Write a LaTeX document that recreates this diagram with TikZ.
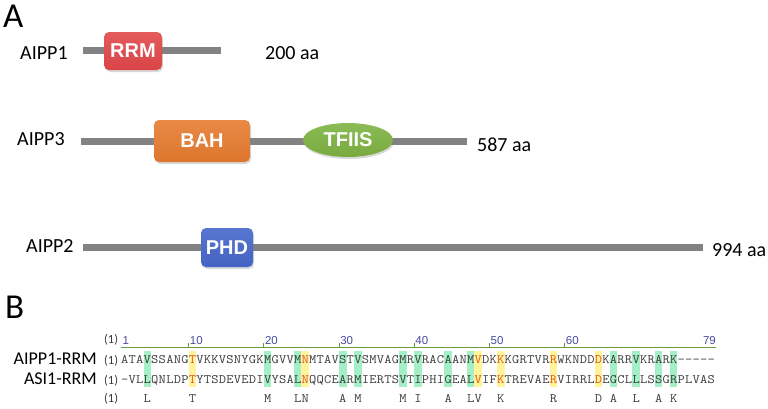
\documentclass[tikz,border=0pt]{standalone}
\usepackage{fontspec}
\setmainfont{Carlito}
\newfontfamily\seqfont[FakeStretch=1.1]{Latin Modern Mono}
\newfontfamily\rulerfont{Liberation Sans}
\newfontfamily\domfont{Liberation Sans}
\usetikzlibrary{shapes.geometric,shadows}
\definecolor{barGray}{HTML}{828282}
\definecolor{rrmRed}{HTML}{D94447}
\definecolor{rrmRedTop}{HTML}{E45B5C}
\definecolor{bahOrange}{HTML}{DD752E}
\definecolor{bahOrangeTop}{HTML}{E88A45}
\definecolor{tfGreen}{HTML}{78AA40}
\definecolor{tfGreenTop}{HTML}{8BBB55}
\definecolor{phdBlue}{HTML}{4463C2}
\definecolor{phdBlueTop}{HTML}{5676D0}
\definecolor{hlGreen}{HTML}{A4EFC6}
\definecolor{hlYellow}{HTML}{FFF39C}
\definecolor{hlText}{HTML}{E2561C}
\definecolor{seqGray}{HTML}{3A3A3A}
\definecolor{rulerBlue}{HTML}{4B4BA3}
\definecolor{rulerGreen}{HTML}{6A9A3A}
% place a sequence one residue per column; lower-case = highlighted (orange) residue
\newcount\seqcol
\def\placeseq#1#2#3{\def\seqy{#1}\def\seqpre{#2}\global\seqcol=0 \seqloop#3\relax}
\def\seqloop#1{\ifx\relax#1\else\seqone{#1}\expandafter\seqloop\fi}
\def\seqone#1{\global\advance\seqcol by 1
  \ifnum`#1>`Z \def\seqclr{hlText}\else\def\seqclr{seqGray}\fi
  \node[seqtext, anchor=base, text=\seqclr] (\seqpre\the\seqcol) at ({121+(\the\seqcol-0.5)*7.52},\seqy) {\uppercase{#1}};}
\begin{document}
\begin{tikzpicture}[x=1pt,y=-1pt,
  protbar/.style={line width=7pt, draw=barGray},
  domainbox/.style={rounded corners=5pt, text=white, inner sep=0pt,
    font=\domfont\fontsize{20}{20}\selectfont\bfseries,
    drop shadow={opacity=0.3, shadow xshift=1pt, shadow yshift=-2pt}},
  protlabel/.style={anchor=base west, inner sep=0pt, font=\fontsize{20}{20}\selectfont},
  panellabel/.style={anchor=base west, inner sep=0pt, font=\fontsize{35}{35}\selectfont},
  rowlabel/.style={anchor=base east, inner sep=0pt, font=\fontsize{18}{18}\selectfont},
  idxlabel/.style={anchor=base west, inner sep=0pt, text=seqGray, font=\fontsize{12.5}{12.5}\selectfont},
  seqtext/.style={inner sep=0pt, text=seqGray, font=\seqfont\fontsize{12.8}{12.8}\selectfont},
  rulernum/.style={inner sep=0pt, text=rulerBlue, font=\rulerfont\fontsize{11.5}{11.5}\selectfont}
]
\useasboundingbox (0,0) rectangle (768,408);

% ---------- Panel A ----------
\node[panellabel] (labA) at (3,27) {A};

% AIPP1
\node[protlabel] (n1) at (20,59) {AIPP1};
\coordinate (b1s) at (83,50);
\coordinate (b1e) at (221,50);
\draw[protbar] (b1s) -- (b1e);
\node[domainbox, top color=rrmRedTop, bottom color=rrmRed, minimum width=58pt, minimum height=38pt] (rrm) at (133,51) {RRM};
\node[protlabel] (len1) at (265,59) {200 aa};

% AIPP3
\node[protlabel] (n3) at (17,145) {AIPP3};
\coordinate (b3s) at (81,141);
\coordinate (b3e) at (467,141);
\draw[protbar] (b3s) -- (b3e);
\node[domainbox, top color=bahOrangeTop, bottom color=bahOrange, minimum width=96pt, minimum height=42pt] (bah) at (202,141) {BAH};
\node[domainbox, ellipse, top color=tfGreenTop, bottom color=tfGreen, minimum width=90pt, minimum height=34pt] (tfiis) at (348,140) {TFIIS};
\node[protlabel] (len3) at (477,151) {587 aa};

% AIPP2
\node[protlabel] (n2) at (26,252.5) {AIPP2};
\coordinate (b2s) at (83,247);
\coordinate (b2e) at (703,247);
\draw[protbar] (b2s) -- (b2e);
\node[domainbox, top color=phdBlueTop, bottom color=phdBlue, minimum width=52pt, minimum height=39pt] (phd) at (227,247.5) {PHD};
\node[protlabel] (len2) at (712,256) {994 aa};

% ---------- Panel B ----------
\node[panellabel] (labB) at (5,318) {B};

% highlights
\foreach \c in {4,20,24,30,32,38,40,44,47,66,69,72,74}
  \fill[hlGreen] ({121+(\c-1)*7.52},351) rectangle ++(7.52,36);
\foreach \c in {10,25,48,51,58,64}
  \fill[hlYellow] ({121+(\c-1)*7.52},351) rectangle ++(7.52,36);

% ruler
\coordinate (rs) at (121,347.5);
\coordinate (re) at (716,347.5);
\draw[rulerGreen, line width=1.2pt] (rs) -- (re);
\foreach \k in {10,20,30,40,50,60}{
  \coordinate (t\k) at ({121+(\k-1)*7.52},347.5);
  \draw[rulerGreen, line width=0.8pt] (t\k) -- ++(0,-4.5);
  \node[rulernum, anchor=base west] (r\k) at ({122+(\k-1)*7.52},344) {\k};
}
\node[rulernum, anchor=base west] (r1) at (122.5,344) {1};
\node[rulernum, anchor=base east] (r79) at (716,344) {79};

% index labels
\node[idxlabel] (i0) at (104,343) {(1)};
\node[idxlabel] (i1) at (104,364) {(1)};
\node[idxlabel] (i2) at (104,384) {(1)};
\node[idxlabel] (i3) at (104,402) {(1)};

% row labels
\node[rowlabel] (l1) at (97,364) {AIPP1-RRM};
\node[rowlabel] (l2) at (97,384) {ASI1-RRM};

% sequences (lower case = orange residue in a yellow column)
\placeseq{363.5}{sa}{ATAVSSANGtVKKVSNYGKMGVVMnMTAVSTVSMVAGMRVRACAANMvDKkKGRTVRrWKNDDdKARRVKRARK-----}
\placeseq{383.5}{sb}{-VLLQNLDPtYTSDEVEDIVYSALnQQCEARMIERTSVTIPHIGEALvIFkTREVAErVIRRLdEGCLLLSSGRPLVAS}

% consensus
\foreach \c/\l in {4/L,10/T,20/M,24/L,25/N,30/A,32/M,38/M,40/I,44/A,47/L,48/V,51/K,58/R,64/D,66/A,69/L,72/A,74/K}
  \node[seqtext, anchor=base] (c\c) at ({121+(\c-0.5)*7.52},402) {\l};

\end{tikzpicture}
\end{document}
